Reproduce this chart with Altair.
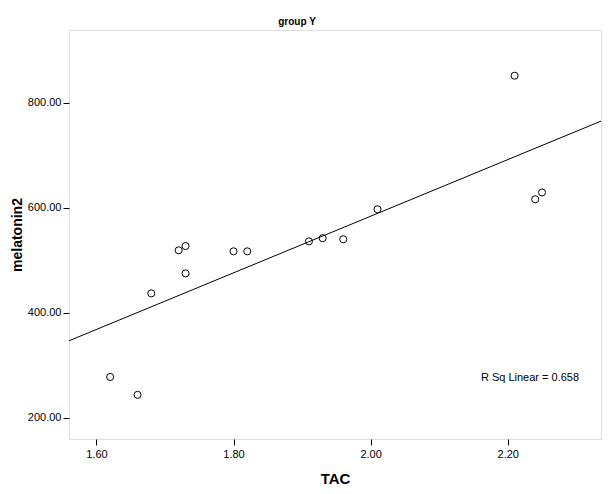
import altair as alt
import pandas as pd
import numpy as np

tac = [1.62, 1.66, 1.68, 1.72, 1.73, 1.73, 1.80, 1.82, 1.91, 1.93, 1.96, 2.01, 2.21, 2.24, 2.25]
melatonin2 = [278, 244, 437, 519, 527, 475, 517, 517, 536, 542, 540, 597, 851, 616, 629]
x_ticks = [1.6, 1.8, 2.0, 2.2]
y_ticks = [200, 400, 600, 800]
x_domain = [1.56, 2.336]
y_domain = [160, 938]

df = pd.DataFrame({"TAC": tac, "melatonin2": melatonin2})
r2 = float(np.corrcoef(tac, melatonin2)[0, 1] ** 2)
label_df = pd.DataFrame({"label": [f"R Sq Linear = {r2:.3f}"]})
title_df = pd.DataFrame({"label": ["group Y"]})

FONT = "Liberation Sans"

x_enc = alt.X("TAC:Q", scale=alt.Scale(domain=x_domain, nice=False, zero=False),
              axis=alt.Axis(values=x_ticks, format=".2f", title="TAC", grid=False,
                            domain=False, tickColor="#000", tickSize=6,
                            labelFont=FONT, labelFontSize=11, labelColor="#000",
                            labelPadding=3, titleFont=FONT, titleFontSize=15,
                            titleFontWeight="bold", titleColor="#000", titlePadding=12))
y_enc = alt.Y("melatonin2:Q", scale=alt.Scale(domain=y_domain, nice=False, zero=False),
              axis=alt.Axis(values=y_ticks, format=".2f", title="melatonin2", grid=False,
                            domain=False, tickColor="#000", tickSize=6,
                            labelFont=FONT, labelFontSize=11, labelColor="#000",
                            labelPadding=2, titleFont=FONT, titleFontSize=14,
                            titleFontWeight="bold", titleColor="#000", titlePadding=3))

points = alt.Chart(df).mark_point(shape="circle", filled=False, color="#000",
                                  size=50, strokeWidth=1, opacity=1).encode(x=x_enc, y=y_enc)

line = alt.Chart(df).transform_regression(
    "TAC", "melatonin2", extent=x_domain
).mark_line(color="#000", strokeWidth=1, clip=True).encode(x="TAC:Q", y="melatonin2:Q")

rsq = alt.Chart(label_df).mark_text(font=FONT, fontSize=11, color="#000",
                                    align="center", baseline="middle").encode(
    text="label:N", x=alt.value(461), y=alt.value(348))

ttl = alt.Chart(title_df).mark_text(font=FONT, fontSize=10, fontWeight="bold", color="#000",
                                    align="center", baseline="middle").encode(
    text="label:N", x=alt.value(228), y=alt.value(-8))

chart = alt.layer(line, points, rsq, ttl).properties(
    width=532, height=409,
    autosize=alt.AutoSizeParams(type="none"),
    padding={"left": 61, "top": 22, "right": 4, "bottom": 47},
).configure_view(stroke="#000", strokeWidth=1.3).configure(background="white")

chart.save("out.html", embed_options={"renderer": "svg", "actions": False})
